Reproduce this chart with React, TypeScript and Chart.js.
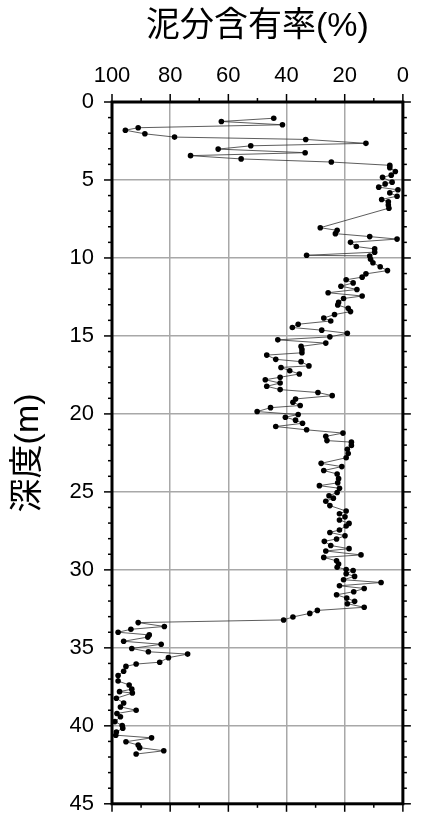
import React, { useEffect, useRef } from "react";
import { Chart, registerables } from "chart.js";

Chart.register(...registerables);

const depthM: number[] = [
  1.04, 1.25, 1.46, 1.65, 1.81, 2.04, 2.25, 2.40, 2.65, 2.81, 3.02, 3.25, 3.44, 3.65, 3.85,
  4.06, 4.21, 4.46, 4.69, 4.83, 5.14, 5.25, 5.46, 5.63, 5.83, 6.04, 6.25, 6.40, 6.60, 6.81,
  8.06, 8.23, 8.44, 8.63, 8.79, 9.00, 9.27, 9.42, 9.63, 9.83, 9.87, 10.08, 10.31, 10.56, 10.81,
  11.02, 11.23, 11.40, 11.60, 11.81, 12.02, 12.23, 12.44, 12.60, 12.85, 13.02, 13.23, 13.44, 13.63, 13.85,
  14.04, 14.25, 14.46, 14.63, 14.83, 15.06, 15.25, 15.46, 15.67, 15.88, 16.08, 16.23, 16.50, 16.65, 16.92,
  17.02, 17.23, 17.44, 17.65, 17.81, 18.02, 18.23, 18.44, 18.63, 18.83, 19.04, 19.25, 19.46, 19.60, 19.85,
  20.04, 20.21, 20.40, 20.60, 20.81, 21.02, 21.23, 21.44, 21.71, 21.81, 22.02, 22.27, 22.54, 22.81, 23.17,
  23.38, 23.63, 23.85, 24.15, 24.42, 24.60, 24.77, 25.04, 25.25, 25.40, 25.60, 25.88, 26.23, 26.40, 26.60,
  26.80, 27.02, 27.19, 27.44, 27.60, 27.81, 28.02, 28.17, 28.44, 28.64, 28.79, 29.04, 29.20, 29.42, 29.63,
  29.83, 29.98, 30.04, 30.25, 30.42, 30.63, 30.81, 31.02, 31.19, 31.40, 31.60, 31.81, 32.02, 32.17, 32.40,
  32.60, 32.79, 33.02, 33.21, 33.38, 33.63, 33.81, 34.00, 34.17, 34.31, 34.58, 34.77, 35.04, 35.25, 35.40,
  35.63, 35.92, 36.04, 36.19, 36.50, 36.77, 37.13, 37.38, 37.65, 37.81, 37.90, 38.23, 38.54, 38.79, 39.00,
  39.21, 39.42, 39.73, 39.98, 40.15, 40.40, 40.60, 40.77, 41.02, 41.23, 41.40, 41.60, 41.81,
];

const mudPercent: number[] = [
  44.4, 62.4, 41.4, 91.0, 95.4, 88.7, 78.5, 33.4, 12.7, 52.3, 63.5, 33.6, 73.0, 55.6, 24.6,
  4.5, 4.5, 2.6, 4.0, 7.0, 3.7, 6.1, 8.3, 1.7, 4.5, 2.0, 7.3, 5.0, 5.0, 4.8,
  28.4, 22.6, 23.2, 11.4, 2.0, 18.0, 16.0, 9.7, 9.7, 33.1, 11.4, 11.1, 10.3, 7.8, 5.3,
  12.7, 14.0, 19.5, 17.1, 21.3, 15.8, 25.7, 14.0, 20.4, 22.1, 22.4, 18.8, 18.0, 23.5, 27.2,
  24.8, 36.0, 38.0, 27.9, 19.1, 25.1, 43.0, 26.5, 35.0, 34.7, 34.7, 46.8, 43.7, 35.0, 32.3,
  41.9, 38.9, 35.6, 42.2, 47.3, 42.2, 46.8, 42.2, 29.2, 24.3, 36.9, 37.8, 35.3, 45.5, 50.1,
  36.0, 40.4, 36.9, 34.5, 43.7, 33.1, 20.6, 26.5, 26.1, 17.7, 17.7, 19.1, 18.8, 19.5, 28.1,
  21.0, 27.2, 22.6, 22.1, 22.4, 28.7, 21.8, 22.6, 25.4, 23.9, 26.5, 25.1, 19.5, 21.8, 19.9,
  21.8, 18.5, 19.5, 21.8, 25.1, 19.9, 22.8, 27.0, 24.8, 18.5, 26.5, 14.4, 27.2, 22.8, 22.1,
  22.6, 19.5, 17.1, 19.5, 16.6, 20.4, 7.5, 21.8, 13.3, 16.9, 22.8, 19.3, 16.6, 19.1, 13.3,
  29.4, 32.0, 37.8, 41.0, 91.0, 82.0, 93.5, 97.9, 87.2, 87.7, 96.0, 83.1, 93.2, 87.5, 74.0,
  80.6, 83.6, 91.7, 95.2, 96.0, 97.9, 97.9, 94.1, 93.2, 97.4, 93.0, 98.5, 96.0, 97.1, 91.7,
  98.3, 97.1, 99.0, 96.5, 96.3, 98.5, 98.7, 86.4, 95.2, 91.0, 90.5, 82.2, 91.7,
];

const xTitle = "泥分含有率(%)";
const yTitle = "深度(m)";
const xMajorStep = 20;
const xMinorStep = 10;
const yMajorStep = 5;
const yMinorStep = 1;
const xRange = [0, 100];
const yRange = [0, 45];

const framePlugin = {
  id: "gmtFrame",
  afterDatasetsDraw(chart: any) {
    const { ctx, chartArea, scales } = chart;
    const { left, right, top, bottom } = chartArea;
    const xs = scales.x;
    const ys = scales.y;
    ctx.save();
    ctx.strokeStyle = "#000";
    ctx.lineWidth = 1.5;
    const seg = (x1: number, y1: number, x2: number, y2: number) => {
      ctx.beginPath();
      ctx.moveTo(x1, y1);
      ctx.lineTo(x2, y2);
      ctx.stroke();
    };
    for (let v = xRange[0]; v <= xRange[1]; v += xMinorStep) {
      const px = xs.getPixelForValue(v);
      const len = v % xMajorStep === 0 ? 8 : 4;
      seg(px, top, px, top - len);
      seg(px, bottom, px, bottom + len);
    }
    for (let d = yRange[0]; d <= yRange[1]; d += yMinorStep) {
      const py = ys.getPixelForValue(d);
      const len = d % yMajorStep === 0 ? 8 : 4;
      seg(left, py, left - len, py);
      seg(right, py, right + len, py);
    }
    ctx.lineWidth = 3;
    ctx.strokeRect(left, top, right - left, bottom - top);
    ctx.restore();
  },
};

export default function App() {
  const ref = useRef<HTMLCanvasElement | null>(null);

  useEffect(() => {
    if (!ref.current) return;
    const points = depthM.map((d, i) => ({ x: mudPercent[i], y: d }));
    const chart = new Chart(ref.current, {
      type: "scatter",
      data: {
        datasets: [
          {
            data: points,
            showLine: true,
            borderColor: "#333",
            borderWidth: 0.8,
            pointRadius: 2.8,
            pointBackgroundColor: "#000",
            pointBorderColor: "#000",
            pointBorderWidth: 0,
          },
        ],
      },
      options: {
        animation: false,
        responsive: false,
        maintainAspectRatio: false,
        layout: { padding: { left: 0, right: 8, top: 0, bottom: 14 } },
        plugins: { legend: { display: false }, tooltip: { enabled: false } },
        scales: {
          x: {
            type: "linear",
            position: "top",
            min: xRange[0],
            max: xRange[1],
            reverse: true,
            afterFit: (s: any) => {
              s.height = 102;
            },
            ticks: {
              stepSize: xMajorStep,
              color: "#000",
              padding: 13,
              maxRotation: 0,
              font: { family: "'Liberation Sans', Arial, sans-serif", size: 22 },
            },
            grid: { color: "#a8a8a8", lineWidth: 1.5, drawTicks: false },
            border: { display: false },
            title: {
              display: true,
              text: xTitle,
              color: "#000",
              padding: { top: 6, bottom: 0 },
              font: { family: "'Liberation Sans', 'Noto Sans CJK JP', sans-serif", size: 34, lineHeight: 1.2 },
            },
          },
          y: {
            type: "linear",
            position: "left",
            min: yRange[0],
            max: yRange[1],
            reverse: true,
            afterFit: (s: any) => {
              s.width = 112;
            },
            ticks: {
              stepSize: yMajorStep,
              color: "#000",
              padding: 18,
              font: { family: "'Liberation Sans', Arial, sans-serif", size: 22 },
            },
            grid: { color: "#a8a8a8", lineWidth: 1.5, drawTicks: false },
            border: { display: false },
            title: {
              display: true,
              text: yTitle,
              color: "#000",
              padding: { top: 8, bottom: 0 },
              font: { family: "'Liberation Sans', 'Noto Sans CJK JP', sans-serif", size: 34, lineHeight: 1.2 },
            },
          },
        },
      },
      plugins: [framePlugin],
    } as any);
    return () => chart.destroy();
  }, []);

  return (
    <div style={{ position: "fixed", left: 0, top: 0, width: 422, height: 835, background: "#fff" }}>
      <canvas ref={ref} width={422} height={835} />
    </div>
  );
}
